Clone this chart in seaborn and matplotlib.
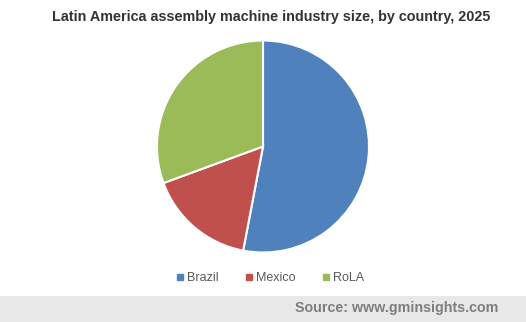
import matplotlib
matplotlib.use("Agg")
import matplotlib.pyplot as plt
from matplotlib.lines import Line2D
import seaborn as sns

categories = ["Brazil", "Mexico", "RoLA"]
values = [53.0, 16.4, 30.6]
colors = ["#4F81BD", "#C0504D", "#9BBB59"]
title = "Latin America assembly machine industry size, by country, 2025"
source = "Source: www.gminsights.com"

sns.set_style("white")
plt.rcParams["font.family"] = ["Liberation Sans", "DejaVu Sans"]

fig = plt.figure(figsize=(5.26, 3.22), dpi=100)
W, H = 526, 322
cx, cy, r = 263, 146.5, 106
ax = fig.add_axes([(cx - r) / W, (H - cy - r) / H, 2 * r / W, 2 * r / H])
ax.pie(values, colors=colors, startangle=90, counterclock=False,
       wedgeprops=dict(edgecolor="white", linewidth=1.5), radius=1.0)
ax.set_xlim(-1, 1)
ax.set_ylim(-1, 1)
ax.set_aspect("equal")
ax.axis("off")

fig.text(271 / W, 1 - 17 / H, title, ha="center", va="center",
         fontsize=10.35, fontweight="bold", color="#333333")

handles = [Line2D([0], [0], marker="s", linestyle="", markersize=4,
                  markerfacecolor=c, markeredgecolor=c) for c in colors]
leg = fig.legend(handles, categories, loc="center", bbox_to_anchor=(270 / W, 1 - 278 / H),
                 ncol=3, frameon=False, fontsize=9, handlelength=0.6, handletextpad=0.3,
                 columnspacing=2.1, labelcolor="#595959")

# footer band
fig.patches.append(plt.Rectangle((0, 0), 1, 26 / H, transform=fig.transFigure,
                                 facecolor="#E8E8E8", edgecolor="none", zorder=0))
fig.text(498 / W, 1 - 308 / H, source, ha="right", va="center",
         fontsize=10.25, fontweight="bold", color="#7F7F7F")

fig.savefig("out.png", dpi=100)
